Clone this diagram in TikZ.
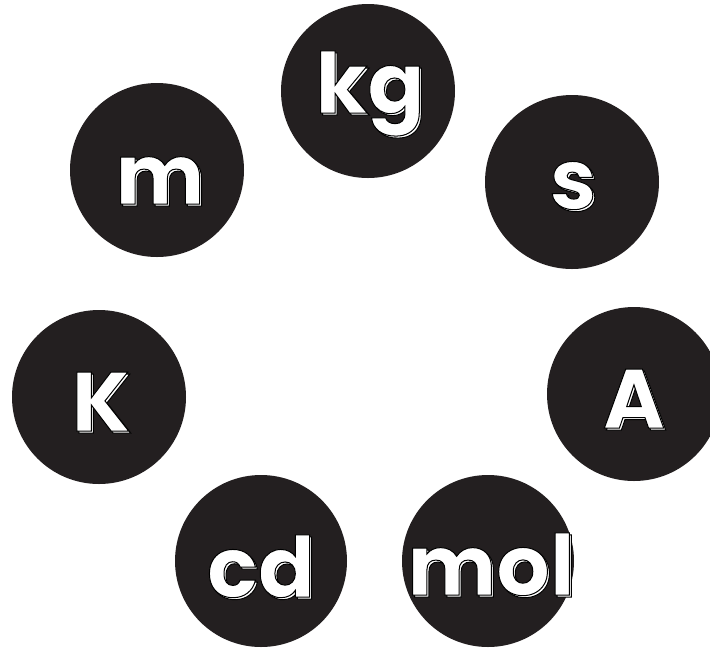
\documentclass[tikz,border=0pt]{standalone}
\usepackage{fontspec}
\newfontfamily\popfont{Poppins}
\definecolor{discfill}{RGB}{35,31,32}
% white glyphs with a thin black stroke (text render mode 2)
\newcommand{\unitlbl}[1]{\textcolor{white}{\special{pdf:literal direct 2 Tr 1.0 w 0 0 0 RG}#1\special{pdf:literal direct 0 Tr}}}
\tikzset{
  disc/.style={circle, fill=discfill, draw=none, minimum size=174pt, inner sep=0pt},
  lbl/.style={anchor=base, inner sep=0pt, font=\popfont\bfseries\fontsize{84}{84}\selectfont},
  shadowlbl/.style={lbl, xshift=2pt, yshift=-2pt}
}
\begin{document}
\begin{tikzpicture}[x=1pt,y=-1pt]
\useasboundingbox (0,0) rectangle (710,649);
% discs
\node[disc] (dkg)  at (368,91)  {};
\node[disc] (dm)   at (157,170) {};
\node[disc] (ds)   at (572,182) {};
\node[disc] (dK)   at (99,397)  {};
\node[disc] (dA)   at (634,394) {};
\node[disc, minimum size=172pt] (dcd)  at (261,561) {};
\node[disc, minimum size=172pt] (dmol) at (488,561) {};
% labels: shadow copies then front copies
\foreach \nm/\x/\y/\t in {kg/370/113/kg, m/160/204/m, s/573/209/s, K/101/431/K, A/634/428/A, cd/261/597/cd, mol/491/595/mol}{
  \node[shadowlbl] (sh\nm) at (\x,\y) {\unitlbl{\t}};
  \node[lbl] (t\nm) at (\x,\y) {\unitlbl{\t}};
}
\end{tikzpicture}
\end{document}
